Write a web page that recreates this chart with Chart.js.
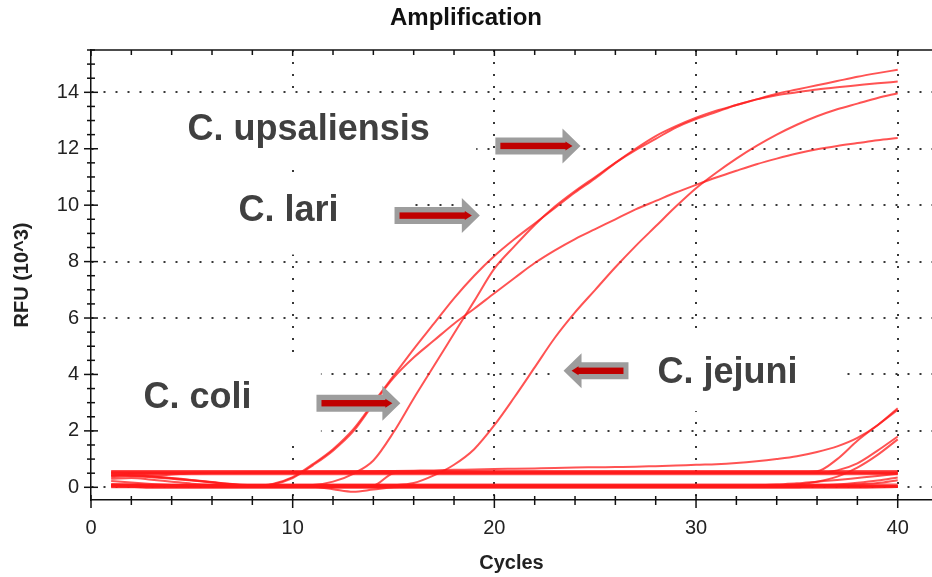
<!DOCTYPE html>
<html>
<head>
<meta charset="utf-8">
<title>Amplification</title>
<script src="https://cdn.jsdelivr.net/npm/chart.js@4.4.0/dist/chart.umd.min.js"></script>
<style>
  body { margin: 0; background: #fff; }
  #wrap { width: 932px; height: 577px; position: relative; }
</style>
</head>
<body>
<div id="wrap"><canvas id="amplification"></canvas></div>
<script>
// cycle numbers and RFU values (x1000)
const cycles = [1,2,3,4,5,6,7,8,9,10, 11,12,13,14,15,16,17,18,19,20,
                21,22,23,24,25,26,27,28,29,30, 31,32,33,34,35,36,37,38,39,40];

const xTicks = [0,2,4,6,8,10,12,14,16,18,20,22,24,26,28,30,32,34,36,38,40];
const xLabelled = [0,10,20,30,40];
const yTicks = [0,0.5,1,1.5,2,2.5,3,3.5,4,4.5,5,5.5,6,6.5,7,7.5,8,8.5,9,9.5,
                10,10.5,11,11.5,12,12.5,13,13.5,14,14.5,15,15.5];
const yLabelled = [0,2,4,6,8,10,12,14];

// the four amplified samples
const upsA = [0.45,0.43,0.38,0.32,0.25,0.18,0.11,0.06,0.12,0.36,
              0.82,1.35,2.05,3.0,3.95,4.9,5.8,6.7,7.5,8.2,
              8.8,9.35,9.9,10.45,10.95,11.5,12.0,12.45,12.8,13.1,
              13.35,13.55,13.75,13.9,14.0,14.1,14.18,14.25,14.32,14.38];
const lari = [0.42,0.4,0.36,0.3,0.24,0.17,0.1,0.05,0.1,0.33,
              0.78,1.3,1.98,2.95,3.88,4.6,5.2,5.8,6.33,6.88,
              7.42,7.95,8.4,8.8,9.15,9.5,9.85,10.15,10.45,10.72,
              10.98,11.22,11.45,11.65,11.83,11.98,12.1,12.2,12.3,12.38];
const coli = [0.08,0.07,0.06,0.05,0.05,0.05,0.05,0.05,0.05,0.06,
              0.08,0.2,0.48,0.95,1.95,3.15,4.3,5.45,6.6,7.75,
              8.55,9.3,9.95,10.5,11.0,11.5,11.95,12.35,12.75,13.05,
              13.3,13.55,13.75,13.95,14.1,14.25,14.4,14.55,14.68,14.8];
const jejuni = [0.06,0.05,0.05,0.04,0.04,0.04,0.04,0.04,0.04,0.04,
                0.04,0.04,0.04,0.05,0.07,0.15,0.42,0.8,1.35,2.2,
                3.2,4.25,5.3,6.2,7.0,7.8,8.55,9.25,9.95,10.6,
                11.15,11.65,12.1,12.5,12.85,13.15,13.4,13.6,13.8,13.97];

// late risers
const lateA = [0.5,0.5,0.5,0.51,0.51,0.52,0.52,0.53,0.53,0.54,
               0.55,0.55,0.56,0.57,0.58,0.59,0.6,0.62,0.63,0.65,
               0.66,0.67,0.68,0.7,0.71,0.72,0.73,0.75,0.77,0.8,
               0.82,0.86,0.92,1.0,1.1,1.25,1.45,1.75,2.2,2.8];
const lateB = [0.55,0.55,0.55,0.55,0.55,0.55,0.55,0.55,0.55,0.55,
               0.55,0.55,0.55,0.55,0.55,0.55,0.55,0.55,0.55,0.55,
               0.55,0.55,0.55,0.55,0.55,0.55,0.55,0.55,0.55,0.55,
               0.55,0.55,0.55,0.55,0.55,0.57,1.0,1.65,2.2,2.75];
const lateC = [0.52,0.52,0.52,0.52,0.52,0.52,0.52,0.52,0.52,0.52,
               0.52,0.52,0.52,0.52,0.52,0.52,0.52,0.52,0.52,0.52,
               0.52,0.52,0.52,0.52,0.52,0.52,0.52,0.52,0.52,0.52,
               0.52,0.52,0.52,0.52,0.52,0.52,0.6,0.85,1.3,1.8];
const lateD = [0.06,0.06,0.06,0.06,0.06,0.06,0.06,0.06,0.06,0.06,
               0.06,0.06,0.06,0.06,0.06,0.06,0.06,0.06,0.06,0.06,
               0.06,0.06,0.06,0.06,0.06,0.06,0.06,0.06,0.06,0.06,
               0.06,0.06,0.06,0.06,0.1,0.2,0.38,0.7,1.15,1.7];
const lowRiseA = [0.03,0.03,0.03,0.03,0.03,0.03,0.03,0.03,0.03,0.03,
                  0.03,0.03,0.03,0.03,0.03,0.03,0.03,0.03,0.03,0.03,
                  0.03,0.03,0.03,0.03,0.03,0.03,0.03,0.03,0.03,0.03,
                  0.03,0.03,0.06,0.1,0.14,0.2,0.26,0.33,0.4,0.48];
const lowRiseB = [0.0,0.0,0.0,0.0,0.0,0.0,0.0,0.0,0.0,0.0,
                  0.0,0.0,0.0,0.0,0.0,0.0,0.0,0.0,0.0,0.0,
                  0.0,0.0,0.0,0.0,0.0,0.0,0.0,0.0,0.0,0.0,
                  0.0,0.0,0.0,0.0,0.0,0.06,0.1,0.16,0.24,0.35];
const lowRiseC = [0.08,0.08,0.08,0.08,0.08,0.08,0.08,0.08,0.08,0.08,
                  0.08,0.08,0.08,0.08,0.08,0.08,0.08,0.08,0.08,0.08,
                  0.08,0.08,0.08,0.08,0.08,0.08,0.08,0.08,0.08,0.08,
                  0.08,0.08,0.08,0.08,0.08,0.08,0.08,0.1,0.15,0.25];

// flat negatives / baselines
const upperA = [0.44,0.45,0.46,0.46,0.46,0.46,0.46,0.46,0.46,0.46,
                0.46,0.46,0.46,0.46,0.46,0.46,0.46,0.46,0.46,0.46,
                0.46,0.46,0.46,0.46,0.46,0.46,0.46,0.46,0.46,0.46,
                0.46,0.46,0.46,0.46,0.46,0.46,0.46,0.46,0.46,0.46];
const upperB = [0.51,0.51,0.51,0.51,0.51,0.51,0.51,0.51,0.51,0.51,
                0.51,0.51,0.51,0.51,0.51,0.51,0.51,0.51,0.51,0.51,
                0.51,0.51,0.51,0.51,0.51,0.51,0.51,0.51,0.51,0.51,
                0.51,0.51,0.51,0.51,0.51,0.51,0.51,0.51,0.51,0.51];
const upperC = [0.58,0.58,0.58,0.58,0.58,0.58,0.58,0.58,0.58,0.58,
                0.58,0.58,0.58,0.58,0.58,0.58,0.58,0.58,0.58,0.58,
                0.58,0.58,0.58,0.58,0.58,0.58,0.58,0.58,0.58,0.58,
                0.58,0.58,0.58,0.58,0.58,0.58,0.58,0.58,0.58,0.58];
const upperWavy = [0.4,0.47,0.42,0.45,0.49,0.5,0.5,0.5,0.5,0.5,
                   0.5,0.5,0.5,0.5,0.5,0.5,0.5,0.5,0.5,0.5,
                   0.5,0.5,0.5,0.5,0.5,0.5,0.5,0.5,0.5,0.5,
                   0.5,0.5,0.5,0.5,0.5,0.5,0.5,0.5,0.5,0.5];
const jumper = [0.1,0.09,0.08,0.07,0.07,0.06,0.06,0.06,0.06,0.06,
                0.06,0.06,0.06,0.07,0.5,0.53,0.53,0.53,0.53,0.53,
                0.53,0.53,0.53,0.53,0.53,0.53,0.53,0.53,0.53,0.53,
                0.53,0.53,0.53,0.53,0.53,0.53,0.53,0.53,0.53,0.53];
const lowerA = [0.05,0.02,-0.02,-0.02,-0.02,-0.02,-0.02,-0.02,-0.02,-0.02,
                -0.02,-0.02,-0.02,-0.02,-0.02,-0.02,-0.02,-0.02,-0.02,-0.02,
                -0.02,-0.02,-0.02,-0.02,-0.02,-0.02,-0.02,-0.02,-0.02,-0.02,
                -0.02,-0.02,-0.02,-0.02,-0.02,-0.02,-0.02,-0.02,-0.01,0.01];
const lowerB = [0.05,0.05,0.05,0.05,0.05,0.05,0.05,0.05,0.05,0.05,
                0.05,0.05,0.05,0.05,0.05,0.05,0.05,0.05,0.05,0.05,
                0.05,0.05,0.05,0.05,0.05,0.05,0.05,0.05,0.05,0.05,
                0.05,0.05,0.05,0.05,0.05,0.05,0.05,0.05,0.05,0.05];
const lowerC = [0.12,0.11,0.1,0.1,0.1,0.1,0.1,0.1,0.1,0.1,
                0.1,0.1,0.1,0.1,0.1,0.1,0.1,0.1,0.1,0.1,
                0.1,0.1,0.1,0.1,0.1,0.1,0.1,0.1,0.1,0.1,
                0.1,0.1,0.1,0.1,0.1,0.1,0.1,0.1,0.1,0.1];
const dip = [0.03,0.03,0.03,0.03,0.03,0.03,0.03,0.03,0.03,0.03,
             0.02,-0.07,-0.16,-0.08,0.0,0.02,0.03,0.03,0.03,0.03,
             0.03,0.03,0.03,0.03,0.03,0.03,0.03,0.03,0.03,0.03,
             0.03,0.03,0.03,0.03,0.03,0.03,0.03,0.03,0.03,0.03];
const fanA = [0.3,0.33,0.27,0.2,0.13,0.08,0.05,0.03,0.03,0.03,
              0.03,0.03,0.03,0.03,0.03,0.03,0.03,0.03,0.03,0.03,
              0.03,0.03,0.03,0.03,0.03,0.03,0.03,0.03,0.03,0.03,
              0.03,0.03,0.03,0.03,0.03,0.03,0.03,0.03,0.03,0.03];
const fanB = [0.22,0.17,0.12,0.08,0.05,0.03,0.02,0.02,0.02,0.02,
              0.02,0.02,0.02,0.02,0.02,0.02,0.02,0.02,0.02,0.02,
              0.02,0.02,0.02,0.02,0.02,0.02,0.02,0.02,0.02,0.02,
              0.02,0.02,0.02,0.02,0.02,0.02,0.02,0.02,0.02,0.02];
const fanC = [0.36,0.4,0.38,0.33,0.26,0.19,0.12,0.07,0.04,0.04,
              0.04,0.04,0.04,0.04,0.04,0.04,0.04,0.04,0.04,0.04,
              0.04,0.04,0.04,0.04,0.04,0.04,0.04,0.04,0.04,0.04,
              0.04,0.04,0.04,0.04,0.04,0.04,0.04,0.04,0.04,0.04];

const allCurves = [upperA, upperB, upperC, upperWavy, jumper, lowerA, lowerB, lowerC,
                   dip, fanA, fanB, fanC, lowRiseA, lowRiseB, lowRiseC,
                   lateA, lateB, lateC, lateD, jejuni, lari, coli, upsA];

// overlay labels (in cycles / RFU units)
const notes = [
  {text: "C. upsaliensis", x: 4.79, y: 12.66, box: [0.3, 19.1, 11.25, 13.9]},
  {text: "C. lari", x: 7.31, y: 9.79, box: [0.3, 15.9, 8.25, 10.9]},
  {text: "C. coli", x: 2.6, y: 3.17, box: [0.3, 11.4, 1.68, 4.7]},
  {text: "C. jejuni", x: 28.09, y: 4.05, box: [23.2, 37.2, 2.7, 5.4]}
];
const arrows = [
  {from: 20.05, to: 24.27, y: 12.1},
  {from: 15.05, to: 19.28, y: 9.63},
  {from: 11.18, to: 15.34, y: 2.98},
  {from: 26.65, to: 23.43, y: 4.13}
];

const FONT = '"Liberation Sans", Arial, sans-serif';
Chart.defaults.font.family = FONT;
Chart.defaults.color = "#222";

const overlay = {
  id: "overlay",
  beforeDatasetsDraw(chart) {
    const {ctx, scales: {x, y}} = chart;
    ctx.save();
    ctx.fillStyle = "#fff";
    notes.forEach(n => {
      const [x0, x1, y0, y1] = n.box;
      const l = x.getPixelForValue(x0), r = x.getPixelForValue(x1);
      const t = y.getPixelForValue(y1), b = y.getPixelForValue(y0);
      ctx.fillRect(l, t, r - l, b - t);
    });
    ctx.restore();
  },
  afterDatasetsDraw(chart) {
    const {ctx, scales: {x, y}} = chart;
    ctx.save();
    ctx.font = "bold 36px " + FONT;
    ctx.fillStyle = "#404040";
    ctx.textBaseline = "middle";
    ctx.textAlign = "left";
    notes.forEach(n => ctx.fillText(n.text, x.getPixelForValue(n.x), y.getPixelForValue(n.y)));

    arrows.forEach(a => {
      const x0 = x.getPixelForValue(a.from), x1 = x.getPixelForValue(a.to);
      const py = y.getPixelForValue(a.y);
      const d = x1 > x0 ? 1 : -1;
      const hb = x1 - d * 18;
      ctx.fillStyle = "#9d9d9d";
      ctx.beginPath();
      ctx.moveTo(x0, py - 8.5);
      ctx.lineTo(hb, py - 8.5);
      ctx.lineTo(hb, py - 17.5);
      ctx.lineTo(x1, py);
      ctx.lineTo(hb, py + 17.5);
      ctx.lineTo(hb, py + 8.5);
      ctx.lineTo(x0, py + 8.5);
      ctx.closePath();
      ctx.fill();
      ctx.fillStyle = "#c00000";
      const rs = x0 + d * 5, re = x1 - d * 8;
      ctx.fillRect(Math.min(rs, re - d * 6), py - 3.2, Math.abs(re - d * 6 - rs), 6.4);
      ctx.beginPath();
      ctx.moveTo(re - d * 7, py - 4.5);
      ctx.lineTo(re, py);
      ctx.lineTo(re - d * 7, py + 4.5);
      ctx.closePath();
      ctx.fill();
    });
    ctx.restore();
  },
  afterDraw(chart) {
    const {ctx, chartArea: a, scales: {x, y}} = chart;
    const line = (x0, y0, x1, y1) => { ctx.beginPath(); ctx.moveTo(x0, y0); ctx.lineTo(x1, y1); ctx.stroke(); };
    ctx.save();
    ctx.strokeStyle = "#111";
    ctx.lineWidth = 1.5;
    line(a.left, a.top, a.right, a.top);
    xTicks.forEach(v => {
      const px = x.getPixelForValue(v);
      const major = xLabelled.includes(v);
      line(px, a.bottom - (major ? 5 : 4), px, a.bottom + (major ? 8 : 5));
      line(px, a.top, px, a.top + (major ? 6 : 5));
    });
    yTicks.forEach(v => {
      const py = y.getPixelForValue(v);
      const major = yLabelled.includes(v);
      line(a.left - (major ? 7 : 4), py, a.left + (major ? 7 : 4), py);
    });
    ctx.restore();
  }
};

const dotColor = "rgba(45,45,45,0.95)";

new Chart(document.getElementById("amplification"), {
  type: "line",
  data: {
    datasets: allCurves.map(vals => ({
      data: vals.map((v, i) => ({x: cycles[i], y: v})),
      borderColor: "rgba(255,25,25,0.75)",
      borderWidth: 2,
      pointRadius: 0,
      fill: false,
      cubicInterpolationMode: "monotone"
    }))
  },
  options: {
    responsive: true,
    maintainAspectRatio: false,
    animation: false,
    layout: { padding: 0 },
    plugins: {
      legend: { display: false },
      tooltip: { enabled: false },
      title: {
        display: true,
        text: "Amplification",
        color: "#111",
        font: { size: 24, weight: "bold" },
        padding: { top: 4, bottom: 17.2 }
      }
    },
    scales: {
      x: {
        type: "linear",
        min: 0,
        max: 41.7,
        afterBuildTicks: s => { s.ticks = xTicks.map(v => ({value: v})); },
        afterFit: s => { s.height = 77; },
        grid: {
          drawTicks: false,
          lineWidth: 2,
          color: c => (c.tick && c.tick.value !== 0 && xLabelled.includes(c.tick.value)) ? dotColor : "transparent"
        },
        border: { display: true, color: "#111", width: 1.5, dash: [2, 10] },
        ticks: {
          autoSkip: false,
          maxRotation: 0,
          padding: 16,
          font: { size: 20 },
          color: "#222",
          callback: v => xLabelled.includes(v) ? String(v) : ""
        },
        title: {
          display: true,
          text: "Cycles",
          color: "#222",
          font: { size: 20, weight: "bold" },
          padding: { top: 0, bottom: 2 }
        }
      },
      y: {
        type: "linear",
        min: -0.45,
        max: 15.5,
        afterBuildTicks: s => { s.ticks = yTicks.map(v => ({value: v})); },
        afterFit: s => { s.width = 91; },
        grid: {
          drawTicks: false,
          lineWidth: 2,
          color: c => (c.tick && yLabelled.includes(c.tick.value)) ? dotColor : "transparent"
        },
        border: { display: true, color: "#111", width: 1.5, dash: [2, 10] },
        ticks: {
          autoSkip: false,
          padding: 12,
          font: { size: 20 },
          color: "#222",
          callback: v => yLabelled.includes(v) ? String(v) : ""
        },
        title: {
          display: true,
          text: "RFU (10^3)",
          color: "#222",
          font: { size: 20, weight: "bold" },
          padding: { top: 10, bottom: 0 }
        }
      }
    }
  },
  plugins: [overlay]
});
</script>
</body>
</html>
